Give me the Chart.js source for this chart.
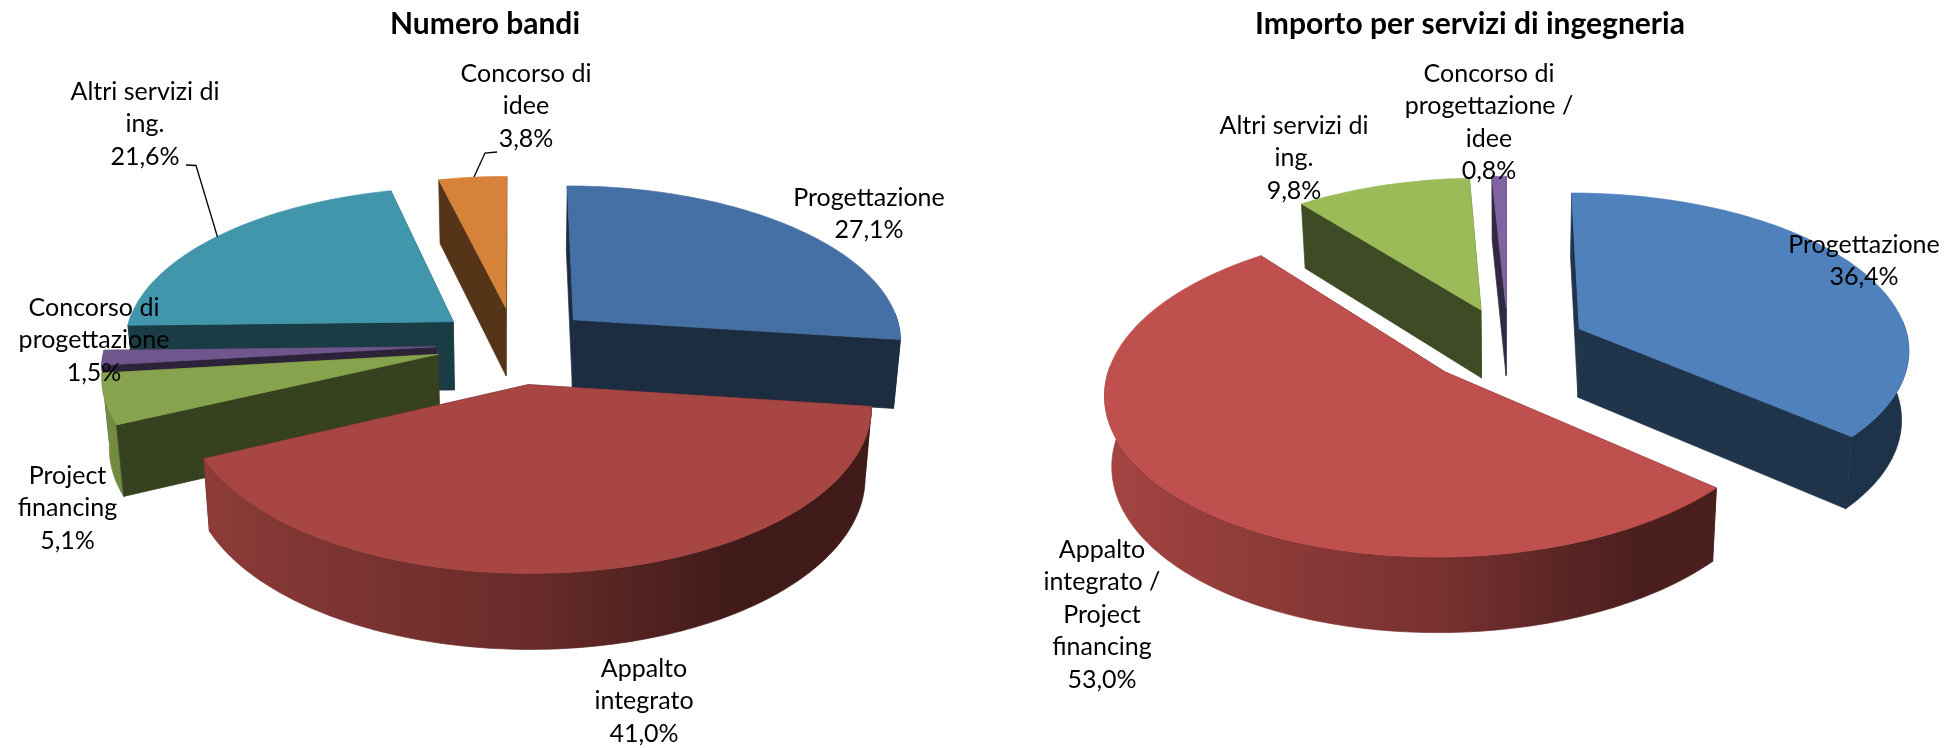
<!DOCTYPE html>
<html><head><meta charset="utf-8">
<style>
html,body{margin:0;padding:0;background:#fff;width:1959px;height:748px;overflow:hidden}
.box{position:absolute;top:0;height:748px}
</style>
<script src="https://cdn.jsdelivr.net/npm/chart.js@4"></script>
</head><body>
<div class="box" style="left:0;width:970px"><canvas id="c1"></canvas></div>
<div class="box" style="left:981px;width:978px"><canvas id="c2"></canvas></div>
<script>
const categoriesBandi = [['Progettazione'],['Appalto','integrato'],['Project','financing'],['Concorso di','progettazione'],['Altri servizi di','ing.'],['Concorso di','idee']];
const valuesBandi = [27.1,41.0,5.1,1.5,21.6,3.8];
const coloursBandi = ['#4570A5','#A74643','#87A34D','#6F578D','#4196AC','#D7823A'];
const explodeBandi = [72,77,72,72,72,72];
const labelCentresBandi = [[869,198],[644,669],[67.5,476],[94,308],[145,92],[526,74]];
const leadersBandi = [null,null,null,null,[[186,165],[196,165.5],[217.5,237]],[[497,152],[485,153],[474,177]]];

const categoriesImporto = [['Progettazione'],['Appalto','integrato /','Project','financing'],['Altri servizi di','ing.'],['Concorso di','progettazione /','idee']];
const valuesImporto = [36.4,53.0,9.8,0.8];
const coloursImporto = ['#4F81BD','#C0504D','#9BBB59','#8064A2'];
const explodeImporto = [72,77,72,72];
const labelCentresImporto = [[883,245],[121,550],[313,126],[508,74]];
const leadersImporto = [null,null,null,null];

const LABEL_FONT = '25px Lato, Carlito, sans-serif';
const LINE = 32.4;

function rgb(hex,f){
  const n=parseInt(hex.slice(1),16);
  return `rgb(${Math.round((n>>16&255)*f)},${Math.round((n>>8&255)*f)},${Math.round((n&255)*f)})`;
}
function wallShade(a){
  const s=Math.sin(a);
  return s<0 ? 0.62-0.25*s : Math.max(0.385,0.62-0.45*s);
}
const pie3d = {
  id:'pie3d',
  beforeDatasetDraw(chart,args,o){
    const ctx=chart.ctx, els=chart.getDatasetMeta(0).data;
    const K=0.12,S=0.471,R=o.radius,D=69,LOW=0.982;
    const proj=(X,Z,low)=>{
      const g=1/(1+K*Z);
      const x=(X*g*R)*(low?LOW:1)+o.cx;
      const y=o.cy-Z*S*g*R+(low?D*Math.pow(g,0.6):0);
      return [x,y];
    };
    const items=els.map((el,i)=>{
      const a0=el.startAngle+Math.PI/2,a1=el.endAngle+Math.PI/2,m=(a0+a1)/2;
      const e=el.options.offset/el.outerRadius;
      return {i,a0,a1,ox:e*Math.sin(m),oz:e*Math.cos(m),mz:Math.cos(m),col:el.options.backgroundColor};
    }).sort((p,q)=>q.mz-p.mz);
    const poly=(pts,fill)=>{
      ctx.beginPath();pts.forEach((p,j)=>j?ctx.lineTo(p[0],p[1]):ctx.moveTo(p[0],p[1]));ctx.closePath();
      ctx.fillStyle=fill;ctx.strokeStyle=fill;ctx.lineWidth=0.7;ctx.fill();ctx.stroke();
    };
    ctx.save();
    for(const s of items){
      const rim=(a,low)=>proj(s.ox+Math.sin(a),s.oz+Math.cos(a),low);
      const apex=low=>proj(s.ox,s.oz,low);
      const radial=(a,sign)=>({
        front:sign*Math.sin(a)<0,
        pts:[apex(false),rim(a,false),rim(a,true),apex(true)]
      });
      const w0=radial(s.a0,1), w1=radial(s.a1,-1);
      const dark=rgb(s.col,0.4);
      [w0,w1].filter(w=>!w.front).forEach(w=>poly(w.pts,dark));
      const step=(s.a1-s.a0)/Math.max(2,Math.ceil((s.a1-s.a0)*180/Math.PI));
      const fa=[];
      for(let j=0;j<=Math.round((s.a1-s.a0)/step);j++){
        const a=s.a0+j*step;
        if(Math.cos(a)<0.05) fa.push(a);
      }
      if(fa.length>1){
        const up=fa.map(a=>rim(a,false)), lo=fa.map(a=>rim(a,true));
        const xs=up.map(p=>p[0]).concat(lo.map(p=>p[0]));
        const xmin=Math.min(...xs),xmax=Math.max(...xs);
        const grad=ctx.createLinearGradient(xmin,0,xmax,0);
        fa.forEach((a,j)=>{
          const t=(up[j][0]-xmin)/Math.max(1,xmax-xmin);
          grad.addColorStop(Math.min(1,Math.max(0,t)),rgb(s.col,wallShade(a)));
        });
        poly(up.concat(lo.slice().reverse()),grad);
      }
      [w0,w1].filter(w=>w.front).forEach(w=>poly(w.pts,dark));
      const top=[apex(false)];
      for(let a=s.a0;a<s.a1;a+=step) top.push(rim(a,false));
      top.push(rim(s.a1,false));
      poly(top,s.col);
    }
    ctx.restore();
    return false;
  },
  afterDraw(chart,args,o){
    const ctx=chart.ctx, labels=chart.data.labels, vals=chart.data.datasets[0].data;
    ctx.save();
    ctx.fillStyle='#000';ctx.font=LABEL_FONT;ctx.textAlign='center';ctx.textBaseline='middle';
    labels.forEach((lab,i)=>{
      const lines=[...lab,vals[i].toFixed(1).replace('.',',')+'%'];
      const [cx,cy]=o.centres[i];
      lines.forEach((t,j)=>ctx.fillText(t,cx,cy+j*LINE));
      const l=o.leaders[i];
      if(l){
        ctx.beginPath();l.forEach((p,j)=>j?ctx.lineTo(p[0],p[1]):ctx.moveTo(p[0],p[1]));
        ctx.strokeStyle='#000';ctx.lineWidth=1.3;ctx.stroke();
      }
    });
    ctx.restore();
  }
};
function make(id,title,labels,values,colours,explode,centres,leaders,cx){
  new Chart(document.getElementById(id),{
    type:'pie',
    data:{labels,datasets:[{data:values,backgroundColor:colours,borderWidth:0,offset:explode}]},
    plugins:[pie3d],
    options:{
      responsive:true,maintainAspectRatio:false,animation:false,radius:300,
      layout:{padding:0},
      plugins:{
        legend:{display:false},tooltip:{enabled:false},
        title:{display:true,text:title,color:'#000',font:{family:'Lato, Carlito, sans-serif',size:30,weight:'bold'},padding:{top:6,bottom:0}},
        pie3d:{cx,cy:344,radius:330,centres,leaders}
      }
    }
  });
}
make('c1','Numero bandi',categoriesBandi,valuesBandi,coloursBandi,explodeBandi,labelCentresBandi,leadersBandi,515);
make('c2','Importo per servizi di ingegneria',categoriesImporto,valuesImporto,coloursImporto,explodeImporto,labelCentresImporto,leadersImporto,527);
</script>
</body></html>
